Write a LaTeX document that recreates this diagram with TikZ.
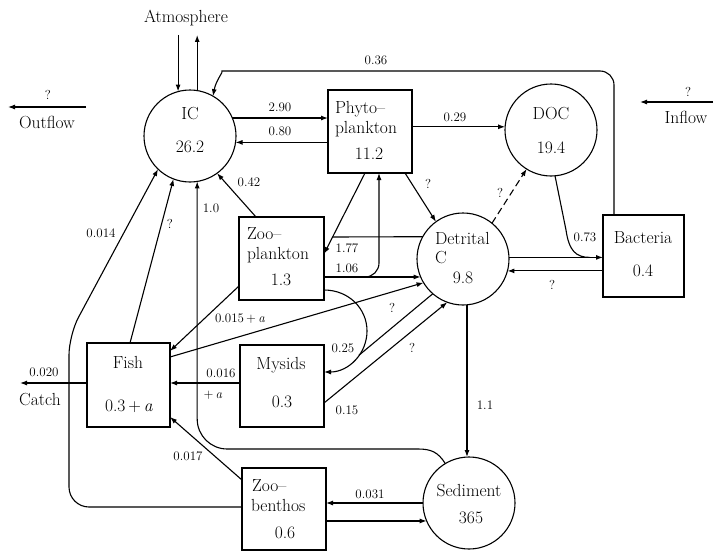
\documentclass[tikz,border=0pt]{standalone}
\usepackage{fontspec}
\usetikzlibrary{arrows.meta}
\begin{document}
\begin{tikzpicture}[x=1pt,y=-1pt,
  every node/.style={inner sep=0pt,outer sep=0pt},
  circ/.style={circle,draw,line width=1.1pt,minimum size=92pt},
  boxn/.style={rectangle,draw,line width=1.1pt},
  nm/.style={font=\fontsize{17.5}{20}\selectfont,anchor=base},
  nmw/.style={font=\fontsize{17.5}{20}\selectfont,anchor=base west},
  lab/.style={font=\fontsize{13}{15}\selectfont,anchor=base},
  ln/.style={line width=1.1pt},
  arr/.style={line width=1.1pt,-{Latex[length=7pt,width=5pt]}},
]
\useasboundingbox (0,0) rectangle (714,551);

% compartments
\node[circ] (IC) at (190,136) {};
\node[circ] (DOC) at (551,130) {};
\node[circ] (Det) at (463,259) {};
\node[circ] (Sed) at (469,503) {};
\node[boxn,minimum width=84pt,minimum height=83pt] (Phyto) at (370,131.5) {};
\node[boxn,minimum width=85pt,minimum height=83pt] (Zoo) at (281.5,258.5) {};
\node[boxn,minimum width=81pt,minimum height=82pt] (Bact) at (643.5,256) {};
\node[boxn,minimum width=83pt,minimum height=84pt] (Fish) at (128.5,385) {};
\node[boxn,minimum width=84pt,minimum height=82pt] (Mys) at (282,386) {};
\node[boxn,minimum width=84pt,minimum height=82pt] (Zoob) at (284,509) {};

% compartment texts
\node[nm] (ICa) at (190,119) {IC};
\node[nm] (ICb) at (190,152) {26.2};
\node[nm] (DOCa) at (551,119) {DOC};
\node[nm] (DOCb) at (551,153) {19.4};
\node[nmw] (Pha) at (335,113) {Phyto–};
\node[nmw] (Phb) at (335,133) {plankton};
\node[nm] (Phc) at (369,159) {11.2};
\node[nmw] (Zoa) at (247,239) {Zoo–};
\node[nmw] (Zob) at (247,259) {plankton};
\node[nm] (Zoc) at (281,285) {1.3};
\node[nmw] (Dea) at (435,244) {Detrital};
\node[nmw] (Deb) at (435,263) {C};
\node[nm] (Dec) at (463,283) {9.8};
\node[nm] (Baa) at (643,243) {Bacteria};
\node[nm] (Bab) at (643,276) {0.4};
\node[nm] (Fia) at (128,368) {Fish};
\node[nm] (Fib) at (129,411) {0.3\,+\,\textit{a}};
\node[nm] (Mya) at (281,369) {Mysids};
\node[nm] (Myb) at (282,407) {0.3};
\node[nmw] (Zba) at (252,491) {Zoo–};
\node[nmw] (Zbb) at (251,511) {benthos};
\node[nm] (Zbc) at (285,538) {0.6};
\node[nm] (Sea) at (469,496) {Sediment};
\node[nm] (Seb) at (471,523) {365};

% external texts
\node[nm] (atm) at (186,23) {Atmosphere};
\node[nm] (outt) at (47,128) {Outflow};
\node[lab] (outq) at (48,99) {?};
\node[nm] (int) at (686,123) {Inflow};
\node[lab] (inq) at (688,96) {?};
\node[nm] (catch) at (40,405) {Catch};
\node[lab] (catchv) at (44,376) {0.020};

% free ends
\coordinate (atm1) at (178,35);
\coordinate (atm2) at (197,35);
\coordinate (outR) at (86,107);
\coordinate (outL) at (8,107);
\coordinate (inR) at (713,102);
\coordinate (inL) at (640,102);
\coordinate (catchEnd) at (20,383);

% atmosphere exchange
\draw[arr] (IC.105 |- atm1) -- (IC.105);
\draw[arr] (IC.81) -- (IC.81 |- atm2);
% outflow, inflow
\draw[arr] (outR) -- (outL);
\draw[arr] (inR) -- (inL);

% bacteria -> IC 0.36
\draw[arr] (Bact.north -| 614,0) [rounded corners=14pt] -- (614,71) -- (236,71)
   .. controls (224,71) and (216,80) .. (IC.60);
% IC <-> Phyto
\draw[arr] (IC.23) -- (Phyto.west |- IC.23);
\draw[arr] (Phyto.west |- IC.-8) -- (IC.-8);
% Phyto -> DOC
\draw[arr] (Phyto.east |- DOC.176) -- (DOC.176);
% Zoo -> IC
\draw[arr] (Zoo.north -| 256,0) -- (IC.-54);
% Sediment -> IC 1.0
\draw[arr] (Sed.121) .. controls (438,452) and (431,449) .. (418,449)
   [rounded corners=30pt] -- (IC.-81 |- 0,449) -- (IC.-81);
% Fish -> IC
\draw[arr] (Fish.north -| 130,0) -- (IC.-111);
% Zoobenthos -> IC 0.014
\draw[arr] (Zoob.west |- 0,507) [rounded corners=20pt] -- (69,507) -- (69,335) -- (IC.-134);
% catch
\draw[arr] (Fish.west |- catchEnd) -- (catchEnd);
% Zoo -> Fish
\draw[arr] (Zoo.west |- 0,286) -- (Fish.east |- 0,351);
% Fish -> Detrital
\draw[arr] (Fish.east |- 0,357) -- (Det.-149);
% Mysids -> Fish
\draw[arr] (Mys.west |- 0,383) -- (Fish.east |- 0,383);
% Mysids -> Detrital
\draw[arr] (Mys.east |- 0,403) -- (Det.-110);
% Zoo -> Mysids arc, Detrital joins
\draw[arr] (Zoo.east |- 0,290) .. controls (348.6,290) and (367,308.4) .. (367,331)
   .. controls (367,353.6) and (348.6,372) .. (Mys.east |- 0,372);
\coordinate (arcJ) at (359,355.2);
\draw[ln] (Det.-131) -- (arcJ);
% Phyto -> Zoo, Detrital joins
\draw[arr] (Phyto.south -| 365,0) -- (Zoo.east |- 0,254);
\draw[ln] (Det.151) -- (333,237);
% Zoo -> Detrital 1.06
\draw[arr] (Zoo.east |- Det.-157) -- (Det.-157);
% Zoo -> Phyto
\coordinate (j106) at (360,277);
\draw[arr] (j106) [rounded corners=14pt] -- (379,277) -- (Phyto.south -| 379,0);
% Phyto -> Detrital
\draw[arr] (Phyto.south -| 405,0) -- (Det.126);
% Detrital -> DOC dashed
\draw[arr,dash pattern=on 7pt off 4pt] (Det.51) -- (DOC.-122);
% DOC -> Bacteria 0.73
\coordinate (j73) at (590,257.4);
\draw[ln] (DOC.-85) -- (566,230) .. controls (569,251) and (576,257.4) .. (j73);
% Detrital <-> Bacteria
\draw[arr] (Det.2) -- (Bact.west |- Det.2);
\draw[arr] (Bact.west |- Det.-15) -- (Det.-15);
% Detrital -> Sediment
\draw[arr] (Det.-85) -- (Det.-85 |- Sed.north);
% Zoobenthos -> Fish
\draw[arr] (Zoob.west |- 0,480) -- (Fish.east |- 0,417);
% Sediment <-> Zoobenthos
\draw[arr] (Sed.180) -- (Zoob.east |- Sed.180);
\draw[arr] (Zoob.east |- Sed.-157) -- (Sed.-157);

% flow labels
\node[lab] (l036) at (376,64) {0.36};
\node[lab] (l290) at (280,111) {2.90};
\node[lab] (l080) at (280,135) {0.80};
\node[lab] (l029) at (455,121) {0.29};
\node[lab] (l042) at (249,186) {0.42};
\node[lab] (lq1) at (428,188) {?};
\node[lab] (lq2) at (500,197) {?};
\node[lab] (l073) at (585,241) {0.73};
\node[lab] (lq3) at (552,289) {?};
\node[lab] (l177) at (347,252) {1.77};
\node[lab] (l106) at (347,272) {1.06};
\node[lab] (l10) at (211,212) {1.0};
\node[lab] (lq4) at (170,228) {?};
\node[lab] (l0014) at (101,237) {0.014};
\node[lab] (l0015) at (240,322) {0.015\,+\,\textit{a}};
\node[lab] (lq5) at (392,312) {?};
\node[lab] (l025) at (343,352) {0.25};
\node[lab] (lq6) at (412,352) {?};
\node[lab] (l0016) at (221,377) {0.016};
\node[lab] (lpa) at (213,398) {+\,\textit{a}};
\node[lab] (l015) at (347,414) {0.15};
\node[lab] (l0017) at (188,460) {0.017};
\node[lab] (l0031) at (370,498) {0.031};
\node[lab] (l11) at (485,409) {1.1};
\end{tikzpicture}
\end{document}
